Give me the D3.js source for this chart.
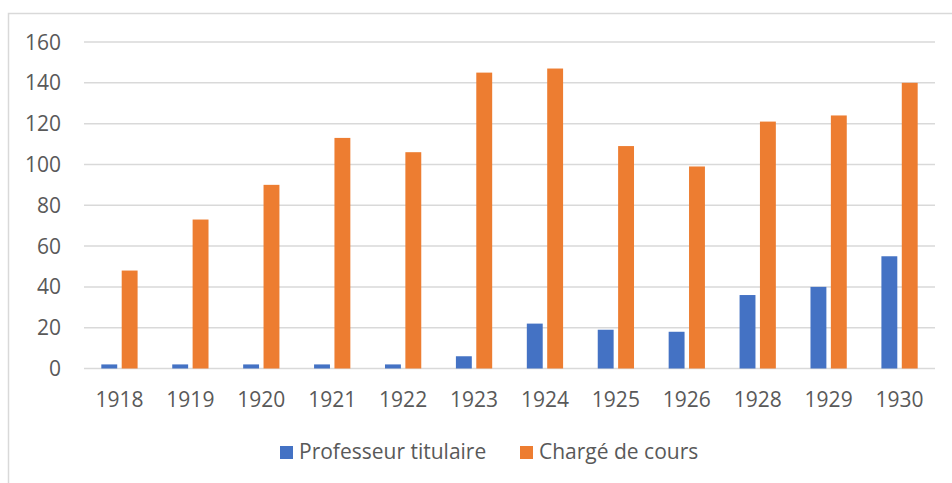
<!DOCTYPE html>
<html>
<head>
<meta charset="utf-8">
<script src="https://cdn.jsdelivr.net/npm/d3@7"></script>
<style>
    body { margin: 0; background: #fff; }
    svg text { font-family: "Open Sans", "Noto Sans", sans-serif; fill: #595959; }
</style>
</head>
<body>
<svg id="chart" width="952" height="483"></svg>
<script>
const years = ["1918", "1919", "1920", "1921", "1922", "1923", "1924", "1925", "1926", "1928", "1929", "1930"];
const professeurTitulaire = [2, 2, 2, 2, 2, 6, 22, 19, 18, 36, 40, 55];
const chargeDeCours = [48, 73, 90, 113, 106, 145, 147, 109, 99, 121, 124, 140];
const seriesNames = ["Professeur titulaire", "Chargé de cours"];
const yTicks = [0, 20, 40, 60, 80, 100, 120, 140, 160];

const colors = ["#4472C4", "#ED7D31"];
const svg = d3.select("#chart");

// chart area frame (only top + left visible in the crop)
svg.append("path")
    .attr("d", "M8.5,483 V13.5 H952")
    .attr("fill", "none")
    .attr("stroke", "#d9d9d9")
    .attr("stroke-width", 1.5);

const plotLeft = 84, plotRight = 935, plotTop = 42, plotBottom = 368.5;

const x = d3.scaleBand().domain(years).range([plotLeft, plotRight]);
const inner = d3.scaleBand().domain([0, 1]).range([0, x.bandwidth()]).paddingInner(0.22).paddingOuter(0.85);
const y = d3.scaleLinear().domain([0, 160]).range([plotBottom, plotTop]);

// gridlines
svg.append("g")
    .selectAll("line")
    .data(yTicks)
    .join("line")
    .attr("x1", plotLeft)
    .attr("x2", plotRight)
    .attr("y1", d => y(d))
    .attr("y2", d => y(d))
    .attr("stroke", "#d9d9d9")
    .attr("stroke-width", 1.5);

// y labels
svg.append("g")
    .selectAll("text")
    .data(yTicks)
    .join("text")
    .attr("x", 61)
    .attr("y", d => y(d))
    .attr("dy", "0.36em")
    .attr("text-anchor", "end")
    .attr("font-size", 21)
    .text(d => d);

// bars
const series = [professeurTitulaire, chargeDeCours];
series.forEach((vals, s) => {
    svg.append("g")
        .selectAll("rect")
        .data(vals)
        .join("rect")
        .attr("x", (d, i) => x(years[i]) + inner(s))
        .attr("y", d => y(d))
        .attr("width", inner.bandwidth())
        .attr("height", d => y(0) - y(d))
        .attr("fill", colors[s]);
});

// x labels
svg.append("g")
    .selectAll("text")
    .data(years)
    .join("text")
    .attr("x", d => x(d) + x.bandwidth() / 2)
    .attr("y", 407)
    .attr("text-anchor", "middle")
    .attr("font-size", 21)
    .text(d => d);

// legend
const legendX = [280, 520];
seriesNames.forEach((name, s) => {
    svg.append("rect")
        .attr("x", legendX[s])
        .attr("y", 446)
        .attr("width", 13)
        .attr("height", 13)
        .attr("fill", colors[s]);
    svg.append("text")
        .attr("x", legendX[s] + 19)
        .attr("y", 459)
        .attr("font-size", 21)
        .text(name);
});
</script>
</body>
</html>
